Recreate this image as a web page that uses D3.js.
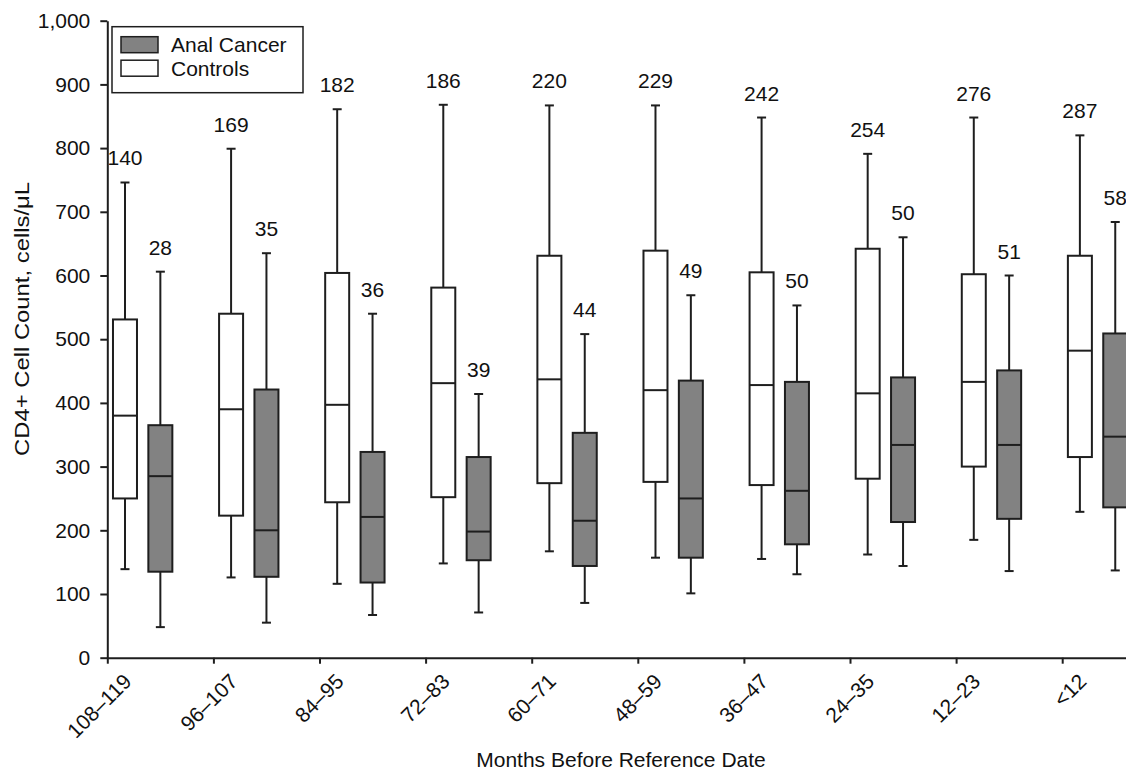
<!DOCTYPE html>
<html>
<head>
<meta charset="utf-8">
<script src="https://cdn.jsdelivr.net/npm/d3@7"></script>
<style>
  body { margin: 0; background: #fff; }
  svg { display: block; font-family: "Liberation Sans", Arial, sans-serif; }
</style>
</head>
<body>
<svg id="chart" width="1126" height="771"></svg>
<script>
// categories along the x axis (months before reference date)
const categories = ["108–119", "96–107", "84–95", "72–83", "60–71", "48–59", "36–47", "24–35", "12–23", "<12"];

// number of subjects above each box
const controlsN = [140, 169, 182, 186, 220, 229, 242, 254, 276, 287];
const cancerN   = [28, 35, 36, 39, 44, 49, 50, 50, 51, 58];

// controls: whisker low, q1, median, q3, whisker high
const controlsMin    = [139, 126, 116, 148, 167, 157, 155, 162, 185, 229];
const controlsQ1     = [250, 223, 244, 252, 274, 276, 271, 281, 300, 315];
const controlsMedian = [380, 390, 397, 431, 437, 420, 428, 415, 433, 482];
const controlsQ3     = [531, 540, 604, 581, 631, 639, 605, 642, 602, 631];
const controlsMax    = [746, 799, 861, 868, 867, 867, 848, 791, 848, 820];

// anal cancer: whisker low, q1, median, q3, whisker high
const cancerMin    = [48, 55, 67, 71, 86, 101, 131, 144, 136, 137];
const cancerQ1     = [135, 127, 118, 153, 144, 157, 178, 213, 218, 236];
const cancerMedian = [285, 200, 221, 198, 215, 250, 262, 334, 334, 347];
const cancerQ3     = [365, 421, 323, 315, 353, 435, 433, 440, 451, 509];
const cancerMax    = [606, 635, 540, 414, 508, 569, 553, 660, 600, 684];

const yTicks = d3.range(0, 1001, 100);

const ink = "#1e1e1e";
const grey = "#828282";
const fontSize = "21px";

const svg = d3.select("#chart");

const x = d3.scaleLinear().domain([0, 10]).range([107.3, 1168.3]);
const y = d3.scaleLinear().domain([0, 1000]).range([657.7, 20.7]);

const boxW = 24;
const capW = 9;

// build box records from the arrays
const series = [
  { key: "Controls", offset: 1 / 6, fill: "#fff", n: controlsN,
    min: controlsMin, q1: controlsQ1, med: controlsMedian, q3: controlsQ3, max: controlsMax },
  { key: "Anal Cancer", offset: 1 / 2, fill: grey, n: cancerN,
    min: cancerMin, q1: cancerQ1, med: cancerMedian, q3: cancerQ3, max: cancerMax }
];

const boxes = [];
series.forEach(s => {
  categories.forEach((c, i) => {
    boxes.push({ series: s.key, fill: s.fill, cx: x(i + s.offset), n: s.n[i],
      min: s.min[i], q1: s.q1[i], med: s.med[i], q3: s.q3[i], max: s.max[i] });
  });
});

// axes
const yAxis = svg.append("g")
  .attr("transform", `translate(${x(0)},0)`)
  .call(d3.axisLeft(y).tickValues(yTicks).tickFormat(d3.format(",")).tickSize(7).tickSizeOuter(0).tickPadding(10));

const xAxis = svg.append("g")
  .attr("transform", `translate(0,${y(0)})`)
  .call(d3.axisBottom(x).tickValues(d3.range(0, categories.length)).tickFormat(i => categories[i]).tickSize(6).tickSizeOuter(0));

[yAxis, xAxis].forEach(a => {
  a.select(".domain").attr("stroke", ink).attr("stroke-width", 2);
  a.selectAll(".tick line").attr("stroke", ink).attr("stroke-width", 2);
  a.selectAll("text").attr("fill", "#111").style("font-size", fontSize).style("font-family", "Liberation Sans, Arial, sans-serif");
});

xAxis.selectAll(".tick text")
  .attr("text-anchor", "end")
  .attr("dy", null)
  .attr("y", null)
  .attr("transform", "translate(25,25) rotate(-45)");

// whiskers and boxes
const g = svg.append("g");

const box = g.selectAll("g.box")
  .data(boxes)
  .join("g")
  .attr("class", "box");

box.append("line")
  .attr("x1", d => d.cx).attr("x2", d => d.cx)
  .attr("y1", d => y(d.max)).attr("y2", d => y(d.q3))
  .attr("stroke", ink).attr("stroke-width", 2);

box.append("line")
  .attr("x1", d => d.cx).attr("x2", d => d.cx)
  .attr("y1", d => y(d.q1)).attr("y2", d => y(d.min))
  .attr("stroke", ink).attr("stroke-width", 2);

box.append("line")
  .attr("x1", d => d.cx - capW / 2).attr("x2", d => d.cx + capW / 2)
  .attr("y1", d => y(d.max)).attr("y2", d => y(d.max))
  .attr("stroke", ink).attr("stroke-width", 2);

box.append("line")
  .attr("x1", d => d.cx - capW / 2).attr("x2", d => d.cx + capW / 2)
  .attr("y1", d => y(d.min)).attr("y2", d => y(d.min))
  .attr("stroke", ink).attr("stroke-width", 2);

box.append("rect")
  .attr("x", d => d.cx - boxW / 2)
  .attr("width", boxW)
  .attr("y", d => y(d.q3))
  .attr("height", d => y(d.q1) - y(d.q3))
  .attr("fill", d => d.fill)
  .attr("stroke", ink).attr("stroke-width", 2);

box.append("line")
  .attr("x1", d => d.cx - boxW / 2).attr("x2", d => d.cx + boxW / 2)
  .attr("y1", d => y(d.med)).attr("y2", d => y(d.med))
  .attr("stroke", ink).attr("stroke-width", 2);

// n labels
box.append("text")
  .attr("x", d => d.cx)
  .attr("y", d => y(d.max) - 17)
  .attr("text-anchor", "middle")
  .attr("fill", "#111")
  .style("font-size", fontSize)
  .text(d => d.n);

// legend
const legend = svg.append("g");
legend.append("rect")
  .attr("x", 112).attr("y", 26.7).attr("width", 191).attr("height", 66)
  .attr("fill", "#fff").attr("stroke", ink).attr("stroke-width", 1.5);

const legendItems = [series[1], series[0]];
const li = legend.selectAll("g.item")
  .data(legendItems)
  .join("g")
  .attr("transform", (d, i) => `translate(121,${36.7 + i * 23.5})`);

li.append("rect")
  .attr("width", 37).attr("height", 16)
  .attr("fill", d => d.fill)
  .attr("stroke", ink).attr("stroke-width", 1.5);

li.append("text")
  .attr("x", 50).attr("y", 15.5)
  .attr("fill", "#111")
  .style("font-size", fontSize)
  .text(d => d.key);

// axis titles
svg.append("text")
  .attr("transform", "translate(29,319) rotate(-90)")
  .attr("text-anchor", "middle")
  .attr("fill", "#111")
  .attr("textLength", 274)
  .attr("lengthAdjust", "spacingAndGlyphs")
  .style("font-size", fontSize)
  .text("CD4+ Cell Count, cells/μL");

svg.append("text")
  .attr("x", 621).attr("y", 767)
  .attr("text-anchor", "middle")
  .attr("fill", "#111")
  .style("font-size", fontSize)
  .text("Months Before Reference Date");
</script>
</body>
</html>
